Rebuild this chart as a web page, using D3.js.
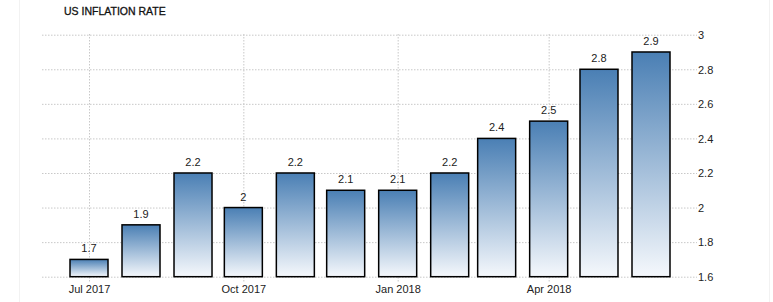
<!DOCTYPE html>
<html>
<head>
<meta charset="utf-8">
<script src="https://cdn.jsdelivr.net/npm/d3@7"></script>
<style>
  body { margin: 0; background: #fff; }
  text { font-family: "Liberation Sans", Arial, sans-serif; }
</style>
</head>
<body>
<div id="main"></div>
<script>
// data
var months = ["2017-07", "2017-08", "2017-09", "2017-10", "2017-11", "2017-12",
              "2018-01", "2018-02", "2018-03", "2018-04", "2018-05", "2018-06"];
var values = [1.7, 1.9, 2.2, 2, 2.2, 2.1, 2.1, 2.2, 2.4, 2.5, 2.8, 2.9];
var yTicks = [1.6, 1.8, 2, 2.2, 2.4, 2.6, 2.8, 3];
var xTicks = ["2017-07", "2017-10", "2018-01", "2018-04"];

var parse = d3.timeParse("%Y-%m");

var svg = d3.select("#main").append("svg")
    .attr("width", 773)
    .attr("height", 302);

var x = d3.scaleTime()
    .domain([parse("2017-07"), parse("2018-06")])
    .range([89, 651]);

var y = d3.scaleLinear()
    .domain([1.6, 3])
    .range([276.7, 34.7]);

// faint frame lines at the sides
svg.append("line").attr("x1", 19.5).attr("x2", 19.5).attr("y1", 0).attr("y2", 302)
    .attr("stroke", "#f2f2f2");
svg.append("line").attr("x1", 769.5).attr("x2", 769.5).attr("y1", 0).attr("y2", 302)
    .attr("stroke", "#f2f2f2");

// gradient for the bars
var grad = svg.append("defs").append("linearGradient")
    .attr("id", "barGrad")
    .attr("x1", 0).attr("y1", 0).attr("x2", 0).attr("y2", 1);
grad.append("stop").attr("offset", "0%").attr("stop-color", "#4a7fb4");
grad.append("stop").attr("offset", "100%").attr("stop-color", "#f5f8fc");

// horizontal grid + right axis labels
var yAxis = d3.axisRight(y)
    .tickValues(yTicks)
    .tickSize(655)
    .tickFormat(d3.format("~g"));

var gy = svg.append("g")
    .attr("transform", "translate(42,0)")
    .call(yAxis);
gy.select(".domain").remove();
gy.selectAll(".tick line")
    .attr("stroke", "#c8c8c8")
    .attr("stroke-dasharray", "1.5,1.5");
gy.selectAll(".tick text")
    .attr("x", 656)
    .attr("dy", "0.35em")
    .attr("fill", "#222")
    .style("font-size", "11px");

// vertical grid + bottom labels
var xAxis = d3.axisBottom(x)
    .tickValues(xTicks.map(parse))
    .tickSize(249)
    .tickFormat(d3.timeFormat("%b %Y"));

var gx = svg.append("g")
    .attr("transform", "translate(0,34)")
    .call(xAxis);
gx.select(".domain").remove();
gx.selectAll(".tick line")
    .attr("stroke", "#c8c8c8")
    .attr("stroke-dasharray", "1.5,1.5");
gx.selectAll(".tick text")
    .attr("y", 251)
    .attr("dy", "0.71em")
    .attr("fill", "#222")
    .style("font-size", "11px");

// bars
var barW = 38;
svg.selectAll("rect.bar")
    .data(values)
    .enter().append("rect")
    .attr("class", "bar")
    .attr("x", (d, i) => x(parse(months[i])) - barW / 2)
    .attr("y", d => y(d))
    .attr("width", barW)
    .attr("height", d => y(1.6) - y(d))
    .attr("fill", "url(#barGrad)")
    .attr("stroke", "#000")
    .attr("stroke-width", 1.5);

// value labels
svg.selectAll("text.val")
    .data(values)
    .enter().append("text")
    .attr("class", "val")
    .attr("x", (d, i) => x(parse(months[i])))
    .attr("y", d => y(d) - 7)
    .attr("text-anchor", "middle")
    .attr("fill", "#222")
    .style("font-size", "11px")
    .text(d => d3.format("~g")(d));

// title
svg.append("text")
    .attr("x", 64)
    .attr("y", 15)
    .attr("fill", "#111")
    .attr("stroke", "#111")
    .attr("stroke-width", 0.3)
    .style("font-size", "10.5px")
    .text("US INFLATION RATE");
</script>
</body>
</html>
